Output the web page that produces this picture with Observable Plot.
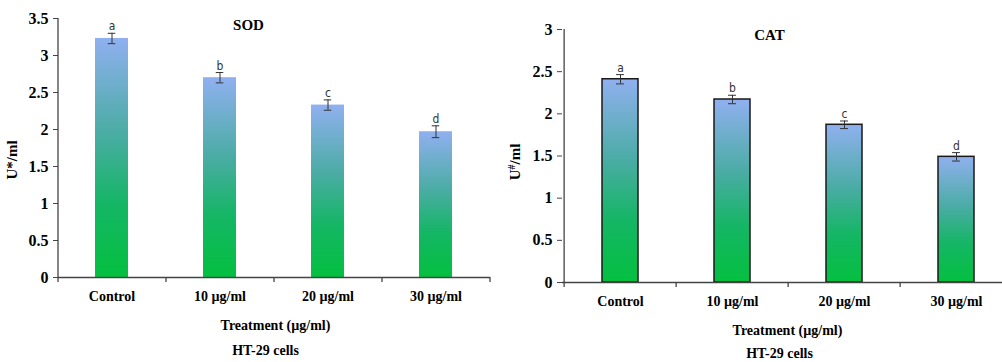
<!DOCTYPE html>
<html>
<head>
<meta charset="utf-8">
<script src="https://cdn.jsdelivr.net/npm/d3@7"></script>
<script src="https://cdn.jsdelivr.net/npm/@observablehq/plot@0.6"></script>
<style>
  html, body { margin: 0; padding: 0; background: #fff; }
  #wrap { position: relative; width: 1002px; height: 362px; overflow: hidden; background: #fff; }
  #left { position: absolute; left: 0; top: 0; }
  #right { position: absolute; left: 500px; top: 0; }
</style>
</head>
<body>
<div id="wrap"><div id="left"></div><div id="right"></div></div>
<script>
const categories = ["Control", "10 µg/ml", "20 µg/ml", "30 µg/ml"];
const letters = ["a", "b", "c", "d"];
const sodValues = [3.23, 2.70, 2.33, 1.97];
const sodErrors = [0.07, 0.07, 0.07, 0.08];
const catValues = [2.41, 2.17, 1.87, 1.49];
const catErrors = [0.055, 0.05, 0.045, 0.05];
const sodTicks = [0, 0.5, 1, 1.5, 2, 2.5, 3, 3.5];
const catTicks = [0, 0.5, 1, 1.5, 2, 2.5, 3];
const xTitle = "Treatment (µg/ml)";
const caption = "HT-29 cells";

function makeChart(cfg) {
  const data = categories.map((c, i) => ({
    cat: c, v: cfg.values[i], e: cfg.errors[i], letter: letters[i]
  }));
  const [x0, x1] = cfg.xRange;
  const step = (x1 - x0) / categories.length;
  const p = cfg.padding;
  const bw = step * (1 - p);
  const capInset = (bw - 8) / 2;
  const yMax = cfg.ticks[cfg.ticks.length - 1];
  const gid = cfg.id + "-grad";
  const serif = "'Liberation Serif', 'Times New Roman', serif";

  const plot = Plot.plot({
    width: cfg.width,
    height: cfg.height,
    marginLeft: cfg.ml,
    marginRight: cfg.mr,
    marginTop: cfg.mt,
    marginBottom: cfg.mb,
    style: { fontFamily: serif, fontSize: "14px", fontWeight: "bold", color: "#000", background: "#fff", overflow: "visible" },
    x: { domain: categories, range: cfg.xRange, paddingInner: p, paddingOuter: p / 2, align: 0.5, axis: null },
    y: { domain: [0, yMax], axis: null },
    marks: [
      Plot.barY(data, { x: "cat", y: "v", fill: `url(#${gid})`, stroke: cfg.stroke, strokeWidth: cfg.strokeWidth }),
      // error bars
      Plot.ruleX(data, { x: "cat", y1: d => d.v - d.e, y2: d => d.v + d.e, stroke: "#333", strokeWidth: 1 }),
      Plot.tickY(data, { x: "cat", y: d => d.v + d.e, stroke: "#333", strokeWidth: 1, insetLeft: capInset, insetRight: capInset }),
      Plot.tickY(data, { x: "cat", y: d => d.v - d.e, stroke: "#333", strokeWidth: 1, insetLeft: capInset, insetRight: capInset }),
      // significance letters
      Plot.text(data, { x: "cat", y: d => d.v + d.e, text: "letter", lineAnchor: "bottom", dy: -3,
        fontFamily: "'Liberation Sans Narrow', 'DejaVu Sans Condensed', sans-serif", fontWeight: "normal", fontSize: 12, fill: "#333" }),
      // axes lines
      Plot.ruleY([0], { stroke: "#444", strokeWidth: 1.3 }),
      Plot.ruleX([categories[0]], { x: d => d, y1: 0, y2: yMax, dx: -step / 2, stroke: "#444", strokeWidth: 1.3 }),
      // x boundary ticks
      Plot.ruleX(categories, { x: d => d, y1: 0, y2: 0, dx: -step / 2, insetBottom: -5, stroke: "#444", strokeWidth: 1.3 }),
      Plot.ruleX([categories[categories.length - 1]], { x: d => d, y1: 0, y2: 0, dx: step / 2, insetBottom: -5, stroke: "#444", strokeWidth: 1.3 }),
      // y axis
      Plot.axisY({ ticks: cfg.ticks, tickFormat: d => String(d), tickSize: 5, tickPadding: 5, label: null, stroke: "#444", fontWeight: "bold", fontSize: 16 }),
      // x axis labels
      Plot.axisX({ tickSize: 0, tickPadding: 14, fontWeight: "bold", fontSize: 14, label: null }),
      // titles & labels
      Plot.text([cfg.title], { text: d => d, frameAnchor: "top", dx: cfg.titleDx, dy: cfg.titleDy, lineAnchor: "middle", fontSize: 15, fontWeight: "bold" }),
      Plot.text([cfg.ylabel], { text: d => d, frameAnchor: "left", rotate: -90, textAnchor: "middle", dx: cfg.ylabelDx, dy: cfg.ylabelDy, lineAnchor: "middle", fontSize: 15, fontWeight: "bold" }),
      Plot.text([xTitle], { text: d => d, frameAnchor: "bottom", dx: cfg.xtDx, dy: cfg.xtDy, lineAnchor: "middle", fontSize: 14, fontWeight: "bold" }),
      Plot.text([caption], { text: d => d, frameAnchor: "bottom", dx: cfg.capDx, dy: cfg.capDy, lineAnchor: "middle", fontSize: 14, fontWeight: "bold" })
    ]
  });

  const svg = d3.select(plot);
  const defs = svg.insert("defs", ":first-child");
  const g = defs.append("linearGradient").attr("id", gid)
    .attr("x1", 0).attr("y1", 0).attr("x2", 0).attr("y2", 1);
  g.append("stop").attr("offset", "0%").attr("stop-color", "#90b0f0");
  g.append("stop").attr("offset", "40%").attr("stop-color", "#4aaca4");
  g.append("stop").attr("offset", "70%").attr("stop-color", "#14b664");
  g.append("stop").attr("offset", "100%").attr("stop-color", "#04c040");

  if (cfg.superscript) {
    svg.selectAll("text").filter(function () { return this.textContent === cfg.ylabel; })
      .each(function () {
        const t = d3.select(this);
        t.text(null);
        t.append("tspan").text("U");
        t.append("tspan").attr("baseline-shift", "super").attr("font-size", "10").text("#");
        t.append("tspan").text("/ml");
      });
  }
  document.getElementById(cfg.id).appendChild(plot);
}

makeChart({
  id: "left", values: sodValues, errors: sodErrors, ticks: sodTicks,
  title: "SOD", ylabel: "U*/ml",
  width: 500, height: 362, ml: 58, mr: 10, mt: 18, mb: 85,
  xRange: [58, 490], padding: 0.69, stroke: "none", strokeWidth: 0,
  titleDx: -26, titleDy: 7, ylabelDx: -46, ylabelDy: 12,
  xtDx: 1, xtDy: 48, capDx: -9, capDy: 73
});

makeChart({
  id: "right", values: catValues, errors: catErrors, ticks: catTicks,
  title: "CAT", ylabel: "U#/ml", superscript: true,
  width: 502, height: 362, ml: 62, mr: 0, mt: 29, mb: 80,
  xRange: [62, 513], padding: 0.68, stroke: "#1a1a1a", strokeWidth: 1.5,
  titleDx: -13, titleDy: 6, ylabelDx: -47, ylabelDy: 6,
  xtDx: 5, xtDy: 48, capDx: -3, capDy: 71
});
</script>
</body>
</html>
